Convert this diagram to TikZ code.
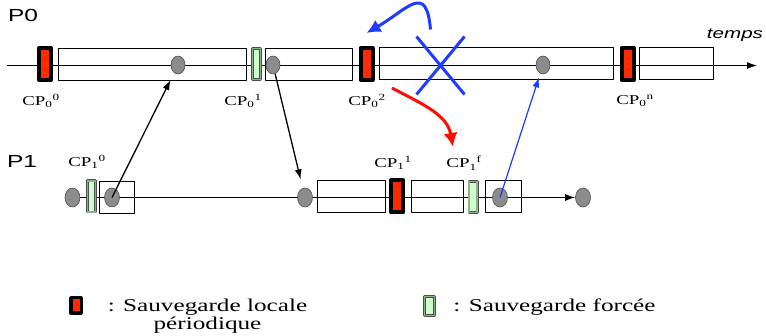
\documentclass[tikz,border=0pt]{standalone}
\usepackage{fontspec}
\setmainfont{Liberation Serif}[FakeStretch=1.4]
\setsansfont{Liberation Sans}[FakeStretch=1.4]
\usetikzlibrary{arrows.meta,shapes.geometric,shapes.misc}

\definecolor{cpred}{HTML}{FF2A00}
\definecolor{cpgreen}{HTML}{CCFFCC}
\definecolor{cpedge}{HTML}{8FAF8F}
\definecolor{msgblue}{HTML}{1E3CFF}
\definecolor{evgray}{HTML}{8C8C8C}

\tikzset{
  plage/.style={draw, line width=0.8pt, minimum height=32, inner sep=0},
  cploc/.style={draw=black, line width=4pt, fill=cpred, minimum width=12, minimum height=32, inner sep=0},
  cpforce/.style={draw=black!70, double=cpedge, double distance=1.6pt, line width=0.6pt, fill=cpgreen,
                  minimum width=8.2, minimum height=31.2, inner sep=0},
  evt/.style={ellipse, draw=black!70, fill=evgray, line width=0.6pt, minimum width=14, minimum height=18, inner sep=0},
  cplab/.style={font=\fontsize{13.5}{16}\selectfont, inner sep=0},
  proc/.style={font=\sffamily\fontsize{17.5}{20}\selectfont, inner sep=0},
  legend/.style={font=\fontsize{18}{18}\selectfont, align=center, inner sep=0}
}

\begin{document}
\begin{tikzpicture}[
    x=1pt, y=-1pt,
    line join=round,
    >={Latex[length=10pt,width=7pt]},  % arrow tip style
    thick
]
\useasboundingbox (0,0) rectangle (766,336);

%-----------------------
% 1) PROCESS P0
%-----------------------
\node[proc] (p0lab) at (23,15) {P0};
\node[font=\sffamily\itshape\fontsize{14.7}{17}\selectfont, inner sep=0] (temps) at (735,35) {temps};

\coordinate (p0start) at (7,65.5);
\coordinate (p0end) at (757,65.5);
\draw[->, line width=1.3pt] (p0start) -- (p0end);

% intervals between checkpoints
\node[plage, minimum width=188] (p0int1) at (152,64) {};
\node[plage, minimum width=87] (p0int2) at (308.5,64) {};
\node[plage, minimum width=234] (p0int3) at (496,63.5) {};
\node[plage, minimum width=74] (p0int4) at (676,63.5) {};

% checkpoints
\node[cploc] (cp00) at (45,64) {};
\node[cpforce] (cp01) at (256.5,64) {};
\node[cploc] (cp02) at (366.5,64) {};
\node[cploc] (cp0n) at (627.5,64) {};

% events
\node[evt] (p0e1) at (178,65) {};
\node[evt] (p0e2) at (273,65) {};
\node[evt] (p0e3) at (543,65) {};

\node[cplab] (lcp00) at (41,101) {CP\textsubscript{0}\textsuperscript{0}};
\node[cplab] (lcp01) at (243,101) {CP\textsubscript{0}\textsuperscript{1}};
\node[cplab] (lcp02) at (367,101) {CP\textsubscript{0}\textsuperscript{2}};
\node[cplab] (lcp0n) at (635,101) {CP\textsubscript{0}\textsuperscript{n}};

%-----------------------
% 2) PROCESS P1
%-----------------------
\node[proc] (p1lab) at (22,161) {P1};

\node[evt, minimum width=15, minimum height=19] (p1e0) at (72.5,197.5) {};
\node[evt, minimum width=15, minimum height=19] (p1e4) at (583,197.5) {};
\draw[->, line width=1.3pt] (p1e0) -- (p1e4);

\node[plage, minimum width=35] (p1int1) at (116.5,197) {};
\node[plage, minimum width=68] (p1int2) at (351,196) {};
\node[plage, minimum width=52] (p1int3) at (437,196) {};
\node[plage, minimum width=36] (p1int4) at (503,196) {};

\node[cpforce] (cp10) at (91.5,196.5) {};
\node[cploc] (cp11) at (397,196.5) {};
\node[cpforce] (cp1f) at (473,197) {};

\node[evt, minimum width=15, minimum height=19] (p1e1) at (112,197.5) {};
\node[evt, minimum width=15, minimum height=19] (p1e2) at (305,197.5) {};
\node[evt, minimum width=15, minimum height=19] (p1e3) at (500,197.5) {};

\node[cplab] (lcp10) at (87,162) {CP\textsubscript{1}\textsuperscript{0}};
\node[cplab] (lcp11) at (393,163) {CP\textsubscript{1}\textsuperscript{1}};
\node[cplab] (lcp1f) at (464,163) {CP\textsubscript{1}\textsuperscript{f}};

%-----------------------
% 3) MESSAGES
%-----------------------
\draw[->, line width=1.3pt, shorten >=8pt] (p1e1.center) -- (p0e1);
\draw[->, line width=1.3pt, shorten >=9pt] (p0e2) -- (p1e2);
\draw[->, msgblue, line width=1.2pt, shorten >=4pt] (p1e3.center) -- (p0e3);

%-----------------------
% 4) ROLLBACK
%-----------------------
\node[cross out, draw=msgblue, line width=3pt, minimum width=45, minimum height=55, inner sep=0] (annul) at (440.5,65.5) {};
\draw[->, >={Latex[length=14pt,width=14pt]}, msgblue, line width=3pt]
  ([shift={(-10,-36)}]annul.center) to[out=95,in=30,looseness=1.9] ([yshift=13pt]cp02.north);
\draw[->, >={Latex[length=14pt,width=14pt]}, red!90!orange, line width=3pt]
  ([shift={(25,-13)}]lcp02.center) to[out=-28,in=100] ([shift={(-11,-16)}]lcp1f.center);

%-----------------------
% 5) LEGEND
%-----------------------
\node[cploc, line width=3.5pt, minimum width=10.5, minimum height=15.5] (leglocbox) at (76,305.5) {};
\node[legend, anchor=base] (leglocal) at (207.5,330) {: Sauvegarde locale\\périodique};
\node[cpforce, minimum width=10.2, minimum height=19.2] (legforcebox) at (429.5,306) {};
\node[legend, anchor=base west] (legforce) at (453,312) {: Sauvegarde forcée};

\end{tikzpicture}
\end{document}
